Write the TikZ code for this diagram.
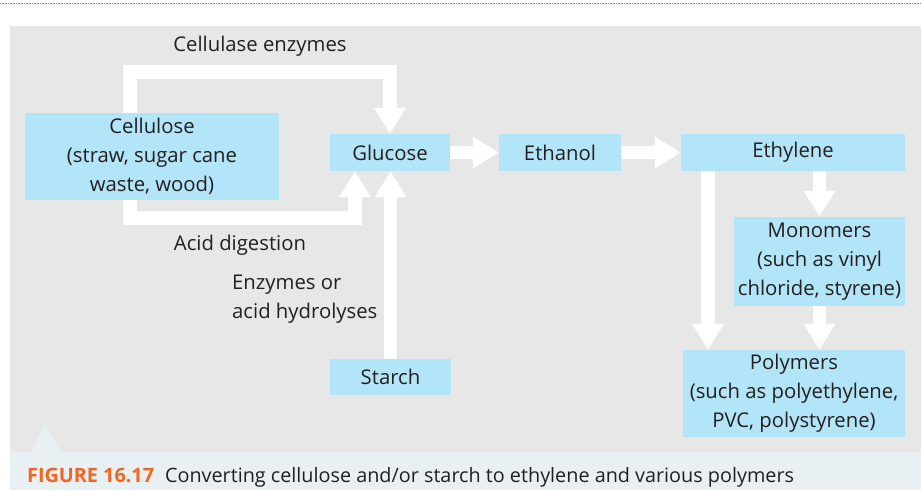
\documentclass[tikz,border=0pt]{standalone}
\usepackage{fontspec}
\setmainfont{Open Sans}
\usepackage{xcolor}
\usetikzlibrary{arrows.meta}
\definecolor{panel}{HTML}{E7E7E7}
\definecolor{boxblue}{HTML}{B3E5F8}
\definecolor{capband}{HTML}{E9F0F3}
\definecolor{figorange}{HTML}{F26522}
\definecolor{ink}{HTML}{231F20}

\begin{document}
\begin{tikzpicture}[x=1pt,y=-1pt,
		box/.style={fill=boxblue,text=ink,align=center,inner sep=0pt,font=\fontsize{20.3}{28.8}\selectfont},
		lbl/.style={text=ink,inner sep=0pt,font=\fontsize{20.3}{28.8}\selectfont},
		flow/.style={draw=white,line width=13.5pt,line join=miter,-{Triangle[width=30pt,length=26pt]}}]
			\useasboundingbox (0,0) rectangle (921,490);
			
			\draw[gray,dash pattern=on 0.8pt off 0.8pt] (0,3)--(921,3);
			\fill[panel] (10,26) rectangle (921,452);
			\fill[capband] (10,452) rectangle (921,490);
			\fill[capband] (31,452)--(45,424)--(61,452)--cycle;
			
			\node[box,minimum width=254,minimum height=87] (cellulose) at (152,156.5) {Cellulose\\(straw, sugar cane\\waste, wood)};
			\node[box,minimum width=120,minimum height=37] (glucose) at (390,152.5) {Glucose};
			\node[box,minimum width=122,minimum height=37] (ethanol) at (560,152.5) {Ethanol};
			\node[box,minimum width=224,minimum height=37] (ethylene) at (793,152.5) {Ethylene};
			\node[box,minimum width=171,minimum height=89] (monomers) at (819.5,261.5) {Monomers\\(such as vinyl\\chloride, styrene)};
			\node[box,minimum width=121,minimum height=36] (starch) at (390.5,377) {Starch};
			\node[box,minimum width=222,minimum height=87] (polymers) at (794,393.5) {Polymers\\(such as polyethylene,\\PVC, polystyrene)};
			
			\node[lbl] (cellulase) at (260,46) {Cellulase enzymes};
			\node[lbl] (acid) at (240,245) {Acid digestion};
			\node[lbl,align=left,anchor=west] (hydro) at (232,299) {Enzymes or\\acid hydrolyses};
			
			\draw[flow] ([xshift=-22pt]cellulose.north) |- ([yshift=62pt]glucose.north) -- (glucose.north);
			\draw[flow] ([xshift=-22pt]cellulose.south) |- ([xshift=-35pt,yshift=-47pt]glucose.south) -- ([xshift=-35pt]glucose.south);
			\draw[flow] (starch.north) -- (starch.north |- glucose.south);
			\draw[flow] (glucose) -- (ethanol);
			\draw[flow] (ethanol) -- (ethylene);
			\draw[flow] (ethylene.south -| monomers.north) -- (monomers.north);
			\draw[flow] (monomers.south) -- (monomers.south |- polymers.north);
			\draw[flow] ([xshift=-85pt]ethylene.south) -- ([xshift=-85pt]ethylene.south |- polymers.north);
			
			\node[anchor=west,inner sep=0pt,text=ink,font=\fontsize{19.8}{22}\selectfont] (caption) at (27,477)
			{{\color{figorange}\bfseries FIGURE 16.17}\hspace{11pt}Converting cellulose and/or starch to ethylene and various polymers};
		\end{tikzpicture}
\end{document}
